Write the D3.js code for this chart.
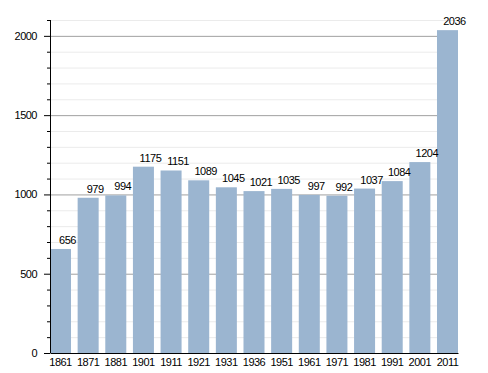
<!DOCTYPE html>
<html>
<head>
<meta charset="utf-8">
<script src="https://cdn.jsdelivr.net/npm/d3@7"></script>
<style>
  body { margin: 0; background: #fff; }
  text { font-family: "Liberation Sans", Arial, sans-serif; letter-spacing: -0.5px; }
</style>
</head>
<body>
<div id="chart"></div>
<script>
const years = ['1861', '1871', '1881', '1901', '1911', '1921', '1931', '1936', '1951', '1961', '1971', '1981', '1991', '2001', '2011'];
const population = [656, 979, 994, 1175, 1151, 1089, 1045, 1021, 1035, 997, 992, 1037, 1084, 1204, 2036];
const majorTicks = [0, 500, 1000, 1500, 2000];

const width = 488, height = 373;
const margin = { top: 20, right: 30, bottom: 20, left: 50 };

const svg = d3.select('#chart')
  .append('svg')
  .attr('width', width)
  .attr('height', height);

const x = d3.scaleBand()
  .domain(years)
  .range([margin.left, width - margin.right])
  .paddingInner(0.24)
  .paddingOuter(0);

const y = d3.scaleLinear()
  .domain([0, 2100])
  .range([height - margin.bottom, margin.top]);

// minor grid every 100
const minor = d3.range(100, 2101, 100).filter(v => v % 500 !== 0);
svg.append('g')
  .selectAll('line')
  .data(minor)
  .join('line')
  .attr('x1', margin.left)
  .attr('x2', width - margin.right)
  .attr('y1', d => y(d) + 0.5)
  .attr('y2', d => y(d) + 0.5)
  .attr('stroke', '#ebebeb');

// major grid
svg.append('g')
  .selectAll('line')
  .data(majorTicks.filter(d => d > 0))
  .join('line')
  .attr('x1', margin.left)
  .attr('x2', width - margin.right)
  .attr('y1', d => y(d) + 0.5)
  .attr('y2', d => y(d) + 0.5)
  .attr('stroke', '#a0a0a0');

// bars
svg.append('g')
  .selectAll('rect')
  .data(population)
  .join('rect')
  .attr('x', (d, i) => x(years[i]))
  .attr('y', d => y(d))
  .attr('width', x.bandwidth())
  .attr('height', d => y(0) - y(d))
  .attr('fill', '#9bb5d0');

// value labels
svg.append('g')
  .selectAll('text')
  .data(population)
  .join('text')
  .attr('x', (d, i) => x(years[i]) + x.bandwidth() / 2 + 7)
  .attr('y', d => y(d) - 5)
  .attr('text-anchor', 'middle')
  .attr('font-size', 11)
  .attr('fill', '#000')
  .text(d => d);

// y axis
const yAxis = svg.append('g')
  .attr('transform', `translate(${margin.left},0)`)
  .call(d3.axisLeft(y).tickValues(majorTicks).tickSize(6).tickPadding(7).tickFormat(d3.format('d')));
yAxis.select('.domain').remove();
yAxis.selectAll('text').attr('font-size', 11).attr('fill', '#000').style('font-family', '"Liberation Sans", Arial, sans-serif');

svg.append('g')
  .attr('transform', `translate(${margin.left},0)`)
  .selectAll('line')
  .data(minor)
  .join('line')
  .attr('x1', -3)
  .attr('x2', 0)
  .attr('y1', d => y(d) + 0.5)
  .attr('y2', d => y(d) + 0.5)
  .attr('stroke', '#000');

svg.append('line')
  .attr('x1', margin.left + 0.5)
  .attr('x2', margin.left + 0.5)
  .attr('y1', y(2100))
  .attr('y2', y(0))
  .attr('stroke', '#000');

// x axis
const xAxis = svg.append('g')
  .attr('transform', `translate(0,${y(0)})`)
  .call(d3.axisBottom(x).tickSize(0).tickPadding(5).tickSizeOuter(0));
xAxis.select('.domain').attr('stroke', '#000');
xAxis.selectAll('text').attr('font-size', 11).attr('fill', '#000').style('font-family', '"Liberation Sans", Arial, sans-serif');
</script>
</body>
</html>
